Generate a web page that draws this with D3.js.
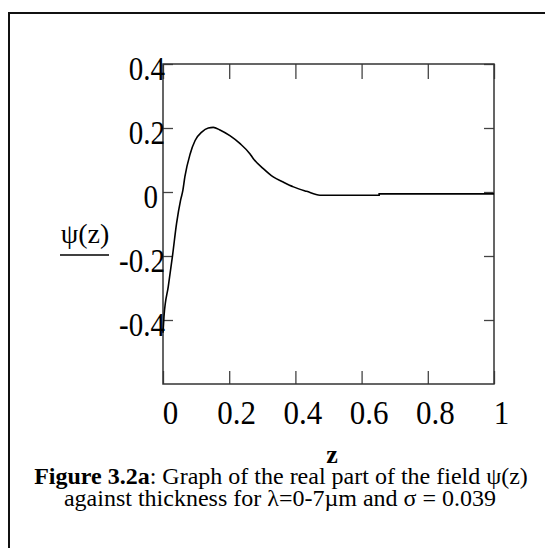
<!DOCTYPE html>
<html>
<head>
<meta charset="utf-8">
<script src="https://cdn.jsdelivr.net/npm/d3@7"></script>
<style>
  body { margin: 0; background: #fff; }
  text { font-family: "Liberation Serif", "Times New Roman", serif; fill: #000; }
</style>
</head>
<body>
<div id="chart"></div>
<script>
// curve: z (thickness) and real part of psi(z)
const zVals   = [0, 0.003, 0.016, 0.029, 0.041, 0.053, 0.060, 0.066, 0.082, 0.097, 0.117, 0.137, 0.152, 0.172, 0.202, 0.233, 0.263, 0.273, 0.303, 0.333, 0.363, 0.394, 0.434, 0.474, 0.653, 0.653, 1.0];
const psiVals = [-0.44, -0.389, -0.295, -0.197, -0.098, -0.026, 0.005, 0.047, 0.119, 0.161, 0.187, 0.200, 0.202, 0.194, 0.176, 0.151, 0.119, 0.104, 0.073, 0.047, 0.031, 0.016, 0.002, -0.010, -0.010, -0.006, -0.006];
const xTicks = [0, 0.2, 0.4, 0.6, 0.8, 1];
const yTicks = [0.4, 0.2, 0, -0.2, -0.4];
const xTickLabels = ["0", "0.2", "0.4", "0.6", "0.8", "1"];
const yTickLabels = ["0.4", "0.2", "0", "-0.2", "-0.4"];

const W = 545, H = 548;
const plot = { left: 163, top: 64, right: 494, bottom: 384 };

const svg = d3.select("#chart").append("svg")
    .attr("width", W)
    .attr("height", H);

// outer figure frame (runs off the right/bottom edge)
svg.append("rect")
    .attr("x", 9).attr("y", 13)
    .attr("width", 545).attr("height", 545)
    .attr("fill", "none")
    .attr("stroke", "#111")
    .attr("stroke-width", 2);

const x = d3.scaleLinear().domain([0, 1]).range([plot.left, plot.right]);
const y = d3.scaleLinear().domain([-0.6, 0.4]).range([plot.bottom, plot.top]);

// inward ticks on all four sides
const tickStyle = g => {
    g.select(".domain").remove();
    g.selectAll("text").remove();
    g.selectAll("line").attr("stroke", "#444").attr("stroke-width", 1.3);
};
svg.append("g").attr("transform", "translate(0," + plot.bottom + ")")
    .call(d3.axisBottom(x).tickValues(xTicks).tickSizeInner(-13).tickSizeOuter(0)).call(tickStyle);
svg.append("g").attr("transform", "translate(0," + plot.top + ")")
    .call(d3.axisTop(x).tickValues(xTicks).tickSizeInner(-15).tickSizeOuter(0)).call(tickStyle);
svg.append("g").attr("transform", "translate(" + plot.left + ",0)")
    .call(d3.axisLeft(y).tickValues(yTicks).tickSizeInner(-10).tickSizeOuter(0)).call(tickStyle);
svg.append("g").attr("transform", "translate(" + plot.right + ",0)")
    .call(d3.axisRight(y).tickValues(yTicks).tickSizeInner(-10).tickSizeOuter(0)).call(tickStyle);

// plot frame
svg.append("rect")
    .attr("x", plot.left).attr("y", plot.top)
    .attr("width", plot.right - plot.left).attr("height", plot.bottom - plot.top)
    .attr("fill", "none")
    .attr("stroke", "#333")
    .attr("stroke-width", 1.5);

// tick labels (the original glyphs are a bit taller than wide, so stretch them)
svg.selectAll(".xlab").data(xTicks).enter().append("text")
    .attr("class", "xlab")
    .attr("transform", d => "translate(" + (x(d) + 7.5) + ",424) scale(1,1.12)")
    .attr("text-anchor", "middle")
    .style("font-size", "31px")
    .text((d, i) => xTickLabels[i]);

svg.selectAll(".ylab").data(yTicks).enter().append("text")
    .attr("class", "ylab")
    // the lone "0" sits a little clear of the axis in the original
    .attr("transform", d => "translate(" + (d === 0 ? 158 : 165) + "," + (y(d) + 15.5) + ") scale(1,1.15)")
    .attr("text-anchor", "end")
    .style("font-size", "29px")
    .text((d, i) => yTickLabels[i]);

// axis titles
svg.append("text")
    .attr("x", 85).attr("y", 243)
    .attr("text-anchor", "middle")
    .style("font-size", "28px")
    .text("\u03C8(z)");
svg.append("line")
    .attr("x1", 60).attr("x2", 109)
    .attr("y1", 255).attr("y2", 255)
    .attr("stroke", "#000").attr("stroke-width", 1.5);

svg.append("text")
    .attr("x", 332).attr("y", 463)
    .attr("text-anchor", "middle")
    .style("font-size", "26px")
    .style("font-weight", "bold")
    .text("z");

// the curve
const pts = zVals.map((z, i) => [z, psiVals[i]]);
svg.append("path")
    .datum(pts)
    .attr("fill", "none")
    .attr("stroke", "#000")
    .attr("stroke-width", 1.6)
    .attr("d", d3.line().x(d => x(d[0])).y(d => y(d[1])).curve(d3.curveMonotoneX));

// caption
const cap1 = svg.append("text")
    .attr("x", 281).attr("y", 484)
    .attr("text-anchor", "middle")
    .style("font-size", "24px");
cap1.append("tspan").style("font-weight", "bold").text("Figure 3.2a");
cap1.append("tspan").text(": Graph of the real part of the field \u03C8(z)");

svg.append("text")
    .attr("x", 280).attr("y", 506)
    .attr("text-anchor", "middle")
    .style("font-size", "24px")
    .text("against thickness for \u03BB=0-7\u00B5m and \u03C3 = 0.039");
</script>
</body>
</html>
